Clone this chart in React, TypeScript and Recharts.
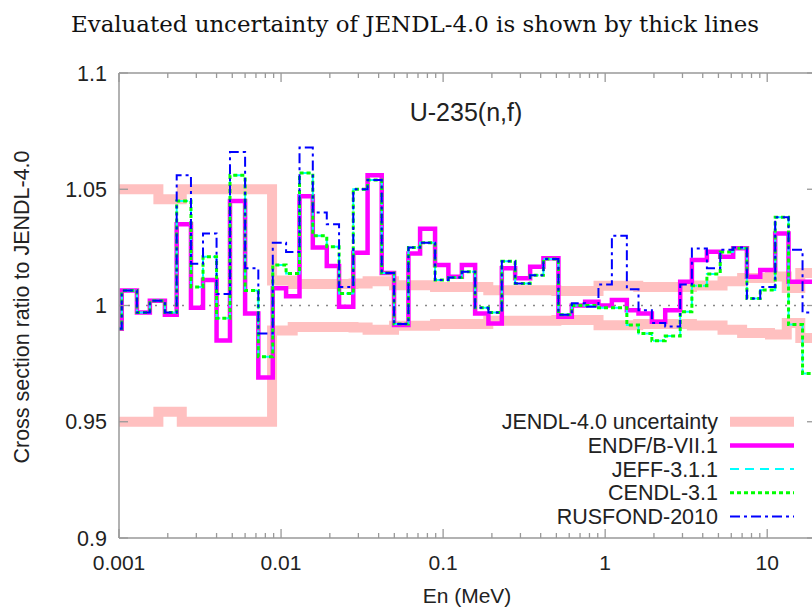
import React from "react";
import { LineChart, Line, XAxis, YAxis, ReferenceLine } from "recharts";

// group boundaries (MeV) used for the library ratios
const binEdges = [
  0.001, 0.00104, 0.00129, 0.00155, 0.00192, 0.00227, 0.00278, 0.0033, 0.004,
  0.00484, 0.006, 0.00724, 0.00889, 0.01074, 0.013, 0.0157, 0.01915, 0.0228,
  0.0279, 0.0342, 0.0418, 0.0498, 0.0611, 0.0721, 0.0892, 0.1078, 0.1305,
  0.1576, 0.1904, 0.2303, 0.2783, 0.3444, 0.4159, 0.5148, 0.6228, 0.7524,
  0.9091, 1.1, 1.361, 1.606, 1.942, 2.347, 2.904, 3.429, 4.244, 5.128, 6.166,
  7.494, 9.055, 11.2, 13.54, 16.52, 20,
];

// ratio to JENDL-4.0, one value per group
const endfB71 = [
  0.99, 1.0064, 0.997, 1.002, 0.996, 1.035, 0.999, 1.011, 0.985, 1.045, 0.9966,
  0.969, 1.0074, 1.004, 1.047, 1.025, 1.017, 0.9995, 1.0227, 1.056, 1.014,
  0.9916, 1.0224, 1.033, 1.0174, 1.0124, 1.0174, 0.9966, 0.9923, 1.016, 1.0117,
  1.0167, 1.0203, 0.9952, 1.0, 1.0016, 1.0, 1.0024, 0.998, 0.9966, 0.993,
  0.998, 1.0102, 1.0196, 1.0231, 1.021, 1.0246, 1.0124, 1.0153, 1.031, 1.0102,
  1.0102,
];
const jeff311 = [
  0.99, 1.0064, 0.997, 1.002, 0.997, 1.045, 1.008, 1.021, 0.9945, 1.056, 1.0064,
  0.978, 1.0174, 1.0138, 1.057, 1.03, 1.0253, 1.0052, 1.05, 1.054, 1.014, 0.992,
  1.025, 1.027, 1.011, 1.012, 1.0145, 0.999, 0.997, 1.019, 1.0095, 1.013, 1.02,
  0.996, 1.0, 1.0, 0.999, 0.999, 0.9916, 0.988, 0.9848, 0.9869, 0.9973, 1.0085,
  1.0135, 1.023, 1.0246, 1.003, 1.0067, 1.038, 0.9918, 0.9708,
];
const cendl31 = [
  0.99, 1.0064, 0.997, 1.002, 0.997, 1.045, 1.008, 1.021, 0.9945, 1.056, 1.0064,
  0.978, 1.0174, 1.0138, 1.057, 1.03, 1.0253, 1.0052, 1.05, 1.054, 1.014, 0.992,
  1.025, 1.027, 1.011, 1.012, 1.0145, 0.999, 0.997, 1.019, 1.0095, 1.013, 1.02,
  0.996, 1.0, 1.0, 0.999, 0.999, 0.9916, 0.988, 0.9848, 0.9869, 0.9973, 1.0085,
  1.0135, 1.023, 1.0246, 1.003, 1.0067, 1.038, 0.9918, 0.9708,
];
const rusfond2010 = [
  0.99, 1.0064, 0.997, 1.002, 0.997, 1.056, 1.018, 1.031, 1.005, 1.066, 1.016,
  0.988, 1.027, 1.023, 1.068, 1.04, 1.035, 1.008, 1.05, 1.054, 1.014, 0.992,
  1.025, 1.027, 1.011, 1.012, 1.0145, 0.999, 0.997, 1.019, 1.0095, 1.013, 1.02,
  0.996, 1.001, 0.9995, 1.009, 1.03, 1.007, 0.998, 0.9925, 0.991, 1.009, 1.0245,
  1.016, 1.024, 1.025, 1.003, 1.008, 1.038, 1.024, 0.997,
];

// JENDL-4.0 evaluated uncertainty (%)
const uncEdges = [
  0.001, 0.00175, 0.00244, 0.0088, 0.0118, 0.028, 0.0342, 0.0498, 0.0892, 0.19,
  0.5, 0.91, 1.6, 3.43, 5.3, 7.0, 10.4, 13.2, 16.0, 20,
];
const uncPercent = [
  5.0, 4.57, 5.0, 1.07, 0.92, 0.95, 1.04, 0.87, 0.8, 0.66, 0.62, 0.85, 0.8,
  0.86, 1.04, 1.18, 1.25, 0.75, 1.4,
];

const xMajorTicks = [0.001, 0.01, 0.1, 1, 10];
const xMajorLabels = ["0.001", "0.01", "0.1", "1", "10"];
const xMinorTicks = [
  0.002, 0.003, 0.004, 0.005, 0.006, 0.007, 0.008, 0.009, 0.02, 0.03, 0.04,
  0.05, 0.06, 0.07, 0.08, 0.09, 0.2, 0.3, 0.4, 0.5, 0.6, 0.7, 0.8, 0.9, 2, 3, 4,
  5, 6, 7, 8, 9,
];
const yTicks = [0.9, 0.95, 1, 1.05, 1.1];
const yTickLabels = ["0.9", "0.95", "1", "1.05", "1.1"];

const SANS = "'Liberation Sans', Arial, sans-serif";
const AXIS = "#999";
const xTicks = [...xMajorTicks, ...xMinorTicks].sort((a, b) => a - b);

const toSteps = (edges: number[], vals: number[]) =>
  edges.map((e, i) => ({ e, v: vals[Math.min(i, vals.length - 1)] }));

const uncUpper = toSteps(uncEdges, uncPercent.map((p) => 1 + p / 100));
const uncLower = toSteps(uncEdges, uncPercent.map((p) => 1 - p / 100));

const series = [
  { name: "ENDF/B-VII.1", vals: endfB71, color: "#ff00ff", width: 4.5, dash: undefined },
  { name: "JEFF-3.1.1", vals: jeff311, color: "#00ffff", width: 2, dash: "9 6" },
  { name: "CENDL-3.1", vals: cendl31, color: "#00ff00", width: 3, dash: "4 3" },
  { name: "RUSFOND-2010", vals: rusfond2010, color: "#0000ff", width: 2, dash: "10 4 3 4" },
];

const legendRows = [
  { name: "JENDL-4.0 uncertainty", color: "#ffc0c0", width: 10, dash: undefined },
  ...series,
];

const text = (size: number) => ({
  fontFamily: SANS,
  fontSize: size,
  fill: "#222",
});

function BottomTick(p: any) {
  const { x, y, payload } = p;
  const idx = xMajorTicks.indexOf(payload.value);
  return (
    <g>
      <line x1={x} y1={y} x2={x} y2={y - (idx >= 0 ? 9 : 5)} stroke={AXIS} strokeWidth={1.3} />
      {idx >= 0 && (
        <text x={x} y={y + 32} textAnchor="middle" {...text(21)}>
          {xMajorLabels[idx]}
        </text>
      )}
    </g>
  );
}

function TopTick(p: any) {
  const { x, y, payload } = p;
  const major = xMajorTicks.includes(payload.value);
  return <line x1={x} y1={y} x2={x} y2={y + (major ? 9 : 5)} stroke={AXIS} strokeWidth={1.3} />;
}

function LeftTick(p: any) {
  const { x, y, payload } = p;
  const idx = yTicks.indexOf(payload.value);
  return (
    <g>
      <line x1={x} y1={y} x2={x + 9} y2={y} stroke={AXIS} strokeWidth={1.3} />
      <text x={x - 12} y={y + 7.5} textAnchor="end" {...text(21.5)}>
        {yTickLabels[idx]}
      </text>
    </g>
  );
}

function RightTick(p: any) {
  const { x, y } = p;
  return <line x1={x} y1={y} x2={x - 9} y2={y} stroke={AXIS} strokeWidth={1.3} />;
}

export default function App() {
  return (
    <div
      style={{
        position: "absolute",
        left: 0,
        top: 0,
        width: 812,
        height: 608,
        overflow: "hidden",
        background: "#fff",
      }}
    >
      <LineChart width={830} height={608} margin={{ top: 63, right: 10, bottom: 0, left: 0 }}>
        <XAxis
          xAxisId="bottom"
          dataKey="e"
          type="number"
          scale="log"
          domain={[0.001, 20]}
          allowDataOverflow
          ticks={xTicks}
          interval={0}
          height={70}
          tickSize={0}
          tickMargin={0}
          tickLine={false}
          axisLine={{ stroke: AXIS, strokeWidth: 1.5 }}
          tick={BottomTick}
        />
        <XAxis
          xAxisId="top"
          orientation="top"
          dataKey="e"
          type="number"
          scale="log"
          domain={[0.001, 20]}
          allowDataOverflow
          ticks={xTicks}
          interval={0}
          height={10}
          tickSize={0}
          tickMargin={0}
          tickLine={false}
          axisLine={{ stroke: AXIS, strokeWidth: 1.5 }}
          tick={TopTick}
        />
        <YAxis
          yAxisId="left"
          type="number"
          domain={[0.9, 1.1]}
          allowDataOverflow
          ticks={yTicks}
          interval={0}
          width={119}
          tickSize={0}
          tickMargin={0}
          tickLine={false}
          axisLine={{ stroke: AXIS, strokeWidth: 1.5 }}
          tick={LeftTick}
        />
        <YAxis
          yAxisId="right"
          orientation="right"
          type="number"
          domain={[0.9, 1.1]}
          allowDataOverflow
          ticks={yTicks}
          interval={0}
          width={4}
          tickSize={0}
          tickMargin={0}
          tickLine={false}
          axisLine={{ stroke: AXIS, strokeWidth: 1.5 }}
          tick={RightTick}
        />
        <ReferenceLine
          xAxisId="bottom"
          yAxisId="left"
          y={1}
          stroke="#888"
          strokeWidth={1.5}
          strokeDasharray="2 7"
        />
        {[uncUpper, uncLower].map((d, i) => (
          <Line
            key={`unc${i}`}
            xAxisId="bottom"
            yAxisId="left"
            data={d}
            dataKey="v"
            type="stepAfter"
            stroke="#ffc0c0"
            strokeWidth={10}
            dot={false}
            activeDot={false}
            isAnimationActive={false}
          />
        ))}
        {series.map((s) => (
          <Line
            key={s.name}
            name={s.name}
            xAxisId="bottom"
            yAxisId="left"
            data={toSteps(binEdges, s.vals)}
            dataKey="v"
            type="stepAfter"
            stroke={s.color}
            strokeWidth={s.width}
            strokeDasharray={s.dash}
            dot={false}
            activeDot={false}
            isAnimationActive={false}
          />
        ))}
      </LineChart>
      <svg
        width={812}
        height={608}
        style={{ position: "absolute", left: 0, top: 0, pointerEvents: "none" }}
      >
        <text
          x={415}
          y={32}
          textAnchor="middle"
          fontFamily="'DejaVu Serif', serif"
          fontSize={22}
          textLength={688}
          lengthAdjust="spacingAndGlyphs"
          fill="#111"
        >
          Evaluated uncertainty of JENDL-4.0 is shown by thick lines
        </text>
        <text x={466} y={121} textAnchor="middle" {...text(25)}>
          U-235(n,f)
        </text>
        <text
          x={0}
          y={0}
          transform="translate(29,307) rotate(-90)"
          textAnchor="middle"
          {...text(21.5)}
        >
          Cross section ratio to JENDL-4.0
        </text>
        <text x={467} y={603} textAnchor="middle" {...text(21)}>
          En (MeV)
        </text>
        {legendRows.map((r, i) => {
          const cy = 421.7 + i * 23.7;
          return (
            <g key={r.name}>
              <text x={718} y={cy + 7.5} textAnchor="end" {...text(21.5)}>
                {r.name}
              </text>
              <line
                x1={730}
                y1={cy}
                x2={794}
                y2={cy}
                stroke={r.color}
                strokeWidth={r.width}
                strokeDasharray={r.dash}
              />
            </g>
          );
        })}
      </svg>
    </div>
  );
}
